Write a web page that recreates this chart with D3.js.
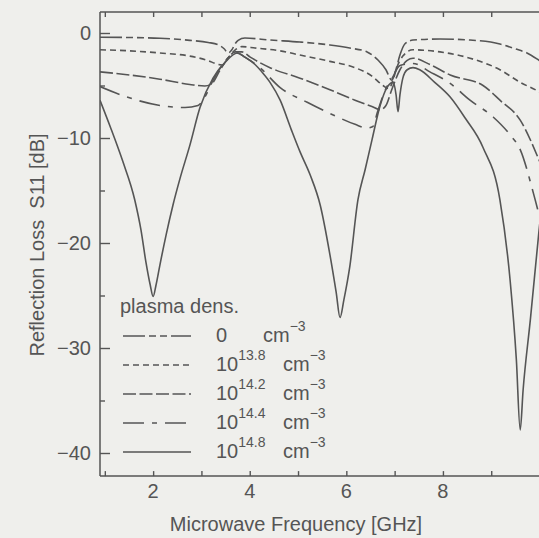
<!DOCTYPE html>
<html><head><meta charset="utf-8">
<script src="https://cdn.jsdelivr.net/npm/d3@7"></script>
<style>
html,body{margin:0;padding:0;background:#efefec;}
svg{display:block;}
text{font-family:"Liberation Sans",Arial,Helvetica,sans-serif;fill:#555;}
</style></head><body>
<svg id="chart" width="539" height="538"></svg>
<script>
// ---- data ----
const xTickLabels = [2, 4, 6, 8];
const xTicksAll = [1, 2, 3, 4, 5, 6, 7, 8, 9, 10];
const yTickLabels = [0, -10, -20, -30, -40];
const yTicksMinor = [-5, -15, -25, -35];
const densExp = ["0", "13.8", "14.2", "14.4", "14.8"];

// [frequency GHz, S11 dB]
const dens0 = [[0.90,-0.40],[1.52,-0.43],[2.14,-0.50],[2.76,-0.70],[3.14,-0.90],[3.34,-1.10],[3.47,-1.50],[3.55,-1.90],[3.63,-1.60],[3.70,-1.00],[3.76,-0.70],[3.90,-0.48],[4.42,-0.67],[5.04,-0.86],[5.66,-1.14],[6.07,-1.43],[6.43,-1.80],[6.66,-2.60],[6.82,-3.50],[6.94,-4.50],[7.02,-3.60],[7.11,-2.10],[7.21,-1.05],[7.38,-0.67],[7.94,-0.57],[8.56,-0.67],[9.18,-1.05],[9.49,-1.50],[9.74,-1.90],[9.99,-2.60],[10.3,-3.60]];
const dens138 = [[0.90,-1.6],[1.52,-1.7],[2.14,-1.9],[2.76,-2.2],[3.12,-2.6],[3.35,-3.0],[3.43,-3.05],[3.55,-2.4],[3.70,-1.6],[3.84,-1.3],[4.11,-1.43],[4.63,-1.7],[5.04,-2.1],[5.66,-2.7],[6.18,-3.3],[6.53,-4.1],[6.76,-5.0],[6.88,-5.3],[6.96,-4.6],[7.03,-3.5],[7.17,-2.2],[7.38,-1.6],[7.94,-1.8],[8.56,-2.4],[9.18,-3.5],[9.60,-4.7],[9.99,-5.6],[10.3,-6.6]];
const dens142 = [[0.90,-3.7],[1.52,-4.0],[2.14,-4.4],[2.76,-4.9],[3.07,-5.05],[3.22,-4.8],[3.39,-3.5],[3.55,-2.4],[3.70,-1.8],[3.84,-1.8],[4.01,-2.3],[4.42,-3.3],[5.04,-4.3],[5.66,-5.4],[6.18,-6.4],[6.53,-7.0],[6.70,-7.3],[6.82,-6.9],[6.94,-5.4],[7.11,-3.5],[7.26,-2.6],[7.38,-2.4],[7.73,-3.0],[8.15,-4.0],[8.83,-5.0],[9.18,-6.4],[9.60,-8.3],[9.99,-12.1],[10.2,-14.5]];
const dens144 = [[0.90,-5.1],[1.46,-6.1],[2.14,-6.9],[2.66,-7.1],[2.93,-6.9],[3.07,-6.1],[3.24,-4.5],[3.43,-3.05],[3.59,-2.2],[3.74,-1.9],[3.90,-2.3],[4.21,-3.3],[4.63,-5.2],[5.19,-6.6],[5.77,-7.9],[6.18,-8.7],[6.43,-9.05],[6.55,-8.9],[6.64,-7.6],[6.81,-5.4],[6.95,-4.3],[7.11,-3.1],[7.38,-2.9],[7.73,-3.7],[8.15,-4.8],[8.56,-6.4],[9.04,-8.0],[9.39,-9.7],[9.60,-11.1],[9.87,-15.2],[9.99,-17.3],[10.2,-21]];
const dens148 = [[0.90,-6.4],[1.11,-8.9],[1.37,-12.2],[1.62,-15.9],[1.75,-18.8],[1.85,-21.8],[1.94,-24.0],[2.00,-25.1],[2.06,-24.0],[2.14,-22.1],[2.27,-19.2],[2.41,-16.4],[2.56,-13.8],[2.76,-10.7],[2.97,-7.1],[3.24,-4.3],[3.49,-2.8],[3.74,-1.9],[3.90,-2.3],[4.11,-3.0],[4.25,-3.7],[4.42,-4.7],[4.63,-6.4],[4.86,-9.2],[5.04,-11.3],[5.25,-13.5],[5.46,-16.4],[5.66,-21.1],[5.79,-24.7],[5.87,-27.1],[5.95,-25.4],[6.07,-22.3],[6.24,-15.9],[6.39,-13.0],[6.53,-10.2],[6.70,-6.9],[6.84,-5.2],[6.97,-4.7],[7.03,-5.9],[7.07,-7.5],[7.11,-5.9],[7.17,-4.3],[7.26,-3.5],[7.38,-3.3],[7.52,-3.5],[7.83,-4.7],[8.15,-6.1],[8.46,-8.1],[8.83,-10.9],[9.18,-15.9],[9.39,-23.5],[9.52,-31.1],[9.60,-37.8],[9.66,-34.0],[9.81,-27.3],[9.99,-18.8],[10.1,-14.0]];

const seriesData = [dens0, dens138, dens142, dens144, dens148];
const dashes = ["22,4,7,4,7,4", "6,4", "13,3.5", "21,8,5,8", null];

// ---- layout ----
const svg = d3.select("#chart");
const color = "#555";
const x = d3.scaleLinear().domain([0.9, 10.3]).range([100, 100 + 9.4 * 48.3]);
const y = d3.scaleLinear().domain([2, -42.2]).range([12, 476.1]);
const W = 539;

svg.append("rect").attr("width", 539).attr("height", 538).attr("fill", "#efefec");

svg.append("defs").append("clipPath").attr("id", "clip")
  .append("rect").attr("x", 100).attr("y", 12).attr("width", 460).attr("height", 464);

// frame
const frame = svg.append("g").attr("stroke", color).attr("stroke-width", 1.5).attr("fill", "none");
frame.append("line").attr("x1", 100).attr("x2", 100).attr("y1", y(2)).attr("y2", y(-42.2));
frame.append("line").attr("x1", 100).attr("x2", W).attr("y1", y(2)).attr("y2", y(2));
frame.append("line").attr("x1", 100).attr("x2", W).attr("y1", y(-42.2)).attr("y2", y(-42.2));

// axes via d3 axis generators (ticks inward)
const xb = svg.append("g").attr("transform", `translate(0,${y(-42.2)})`)
  .call(d3.axisBottom(x).tickValues(xTicksAll).tickSize(-5).tickFormat(""));
const xt = svg.append("g").attr("transform", `translate(0,${y(2)})`)
  .call(d3.axisTop(x).tickValues(xTicksAll).tickSize(-5).tickFormat(""));
const yl = svg.append("g").attr("transform", `translate(100,0)`)
  .call(d3.axisLeft(y).tickValues(yTickLabels).tickSize(-10).tickFormat(""));
const ylm = svg.append("g").attr("transform", `translate(100,0)`)
  .call(d3.axisLeft(y).tickValues(yTicksMinor).tickSize(-5).tickFormat(""));
[xb, xt, yl, ylm].forEach(g => {
  g.select(".domain").remove();
  g.selectAll(".tick line").attr("stroke", color).attr("stroke-width", 1.4);
});

// tick labels
svg.append("g").selectAll("text").data(xTickLabels).join("text")
  .attr("x", d => x(d)).attr("y", 498).attr("text-anchor", "middle")
  .attr("font-size", 20).text(d => d);
svg.append("g").selectAll("text").data(yTickLabels).join("text")
  .attr("x", 91).attr("y", d => y(d) + 7).attr("text-anchor", "end")
  .attr("font-size", 20).text(d => d === 0 ? "0" : "\u2212" + Math.abs(d));

// axis titles
svg.append("text").attr("x", 296).attr("y", 531).attr("text-anchor", "middle")
  .attr("font-size", 20).text("Microwave Frequency [GHz]");
svg.append("text").attr("transform", "translate(44,245) rotate(-90)")
  .attr("text-anchor", "middle").attr("font-size", 20)
  .style("white-space", "pre").text("Reflection Loss  S11 [dB]");

// curves
const line = d3.line().x(d => x(d[0])).y(d => y(d[1])).curve(d3.curveMonotoneX);
svg.append("g").attr("clip-path", "url(#clip)").selectAll("path").data(seriesData).join("path")
  .attr("d", line).attr("fill", "none").attr("stroke", color).attr("stroke-width", 1.6)
  .attr("stroke-dasharray", (d, i) => dashes[i]);

// legend
svg.append("text").attr("x", 120).attr("y", 313).attr("font-size", 20).text("plasma dens.");
const leg = svg.append("g").selectAll("g").data(densExp).join("g")
  .attr("transform", (d, i) => `translate(0,${342 + 29 * i})`);
leg.append("line").attr("x1", 123).attr("x2", 191).attr("y1", -6).attr("y2", -6)
  .attr("stroke", color).attr("stroke-width", 1.6)
  .attr("stroke-dasharray", (d, i) => dashes[i]);
leg.each(function(d, i) {
  const g = d3.select(this);
  if (d === "0") {
    g.append("text").attr("x", 216).attr("y", 0).attr("font-size", 20).text("0");
    const t = g.append("text").attr("x", 263).attr("y", 0).attr("font-size", 20);
    t.append("tspan").text("cm");
    t.append("tspan").attr("dy", -11).attr("font-size", 14).text("\u22123");
  } else {
    const t = g.append("text").attr("x", 216).attr("y", 0).attr("font-size", 20);
    t.append("tspan").text("10");
    t.append("tspan").attr("dy", -11).attr("font-size", 14).text(d);
    const c = g.append("text").attr("x", 283).attr("y", 0).attr("font-size", 20);
    c.append("tspan").text("cm");
    c.append("tspan").attr("dy", -11).attr("font-size", 14).text("\u22123");
  }
});
</script>
</body></html>
